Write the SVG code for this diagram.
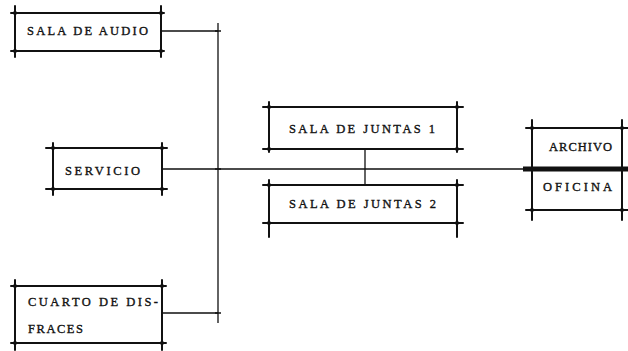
<svg xmlns="http://www.w3.org/2000/svg" width="628" height="351" viewBox="0 0 628 351">
<style>
.b{stroke:#111;stroke-width:2;fill:none;stroke-linecap:round}
.c{stroke:#111;stroke-width:1.3;fill:none}
.d{fill:#111}
.t{font-family:"Liberation Serif","DejaVu Serif",serif;font-size:12.5px;fill:#111;stroke:#111;stroke-width:0.35}
</style>
<rect width="628" height="351" fill="#fff"/>
<g id="connectors">
<path class="c" d="M161 31 H218 M218 23 V323 M162 169 H523 M162 313 H218 M365 149 V185"/>
<path class="c" d="M215 31 H221 M215 313 H221 M215 169 H221"/>
<path stroke="#111" stroke-width="5" d="M523 169 H628"/>
</g>
<g id="sala-audio">
<path class="b" d="M11 13 H164 M11 51 H164 M15 6 V57 M161 6 V57"/>
<circle class="d" cx="15" cy="13" r="2"/><circle class="d" cx="161" cy="13" r="2"/><circle class="d" cx="15" cy="51" r="2"/><circle class="d" cx="161" cy="51" r="2"/>
<text class="t" x="27" y="35" textLength="121" lengthAdjust="spacing">SALA DE AUDIO</text>
</g>
<g id="servicio">
<path class="b" d="M46 148 H167 M46 189 H167 M53 143 V195 M162 143 V195"/>
<circle class="d" cx="53" cy="148" r="2"/><circle class="d" cx="162" cy="148" r="2"/><circle class="d" cx="53" cy="189" r="2"/><circle class="d" cx="162" cy="189" r="2"/>
<text class="t" x="65" y="175" textLength="75" lengthAdjust="spacing">SERVICIO</text>
</g>
<g id="cuarto">
<path class="b" d="M11 286 H166 M11 343 H166 M15 280 V350 M162 280 V350"/>
<circle class="d" cx="15" cy="286" r="2"/><circle class="d" cx="162" cy="286" r="2"/><circle class="d" cx="15" cy="343" r="2"/><circle class="d" cx="162" cy="343" r="2"/>
<text class="t" x="28" y="306" textLength="130" lengthAdjust="spacing">CUARTO DE DIS-</text>
<text class="t" x="28" y="333" textLength="55" lengthAdjust="spacing">FRACES</text>
</g>
<g id="juntas1">
<path class="b" d="M263 107 H463 M263 149 H463 M269 102 V152 M457 102 V152"/>
<circle class="d" cx="269" cy="107" r="2"/><circle class="d" cx="457" cy="107" r="2"/><circle class="d" cx="269" cy="149" r="2"/><circle class="d" cx="457" cy="149" r="2"/>
<text class="t" x="289" y="133" textLength="146" lengthAdjust="spacing">SALA DE JUNTAS 1</text>
</g>
<g id="juntas2">
<path class="b" d="M263 185 H463 M263 223 H463 M269 180 V237 M457 180 V237"/>
<circle class="d" cx="269" cy="185" r="2"/><circle class="d" cx="457" cy="185" r="2"/><circle class="d" cx="269" cy="223" r="2"/><circle class="d" cx="457" cy="223" r="2"/>
<text class="t" x="289" y="208" textLength="147" lengthAdjust="spacing">SALA DE JUNTAS 2</text>
</g>
<g id="archivo">
<path class="b" d="M526 128 H628 M532 120 V169 M622 120 V169"/>
<circle class="d" cx="532" cy="128" r="2"/><circle class="d" cx="622" cy="128" r="2"/>
<text class="t" x="549" y="151" textLength="63" lengthAdjust="spacing">ARCHIVO</text>
</g>
<g id="oficina">
<path class="b" d="M526 210 H628 M532 169 V220 M622 169 V220"/>
<circle class="d" cx="532" cy="210" r="2"/><circle class="d" cx="622" cy="210" r="2"/>
<text class="t" x="543" y="191" textLength="69" lengthAdjust="spacing">OFICINA</text>
</g>
</svg>
